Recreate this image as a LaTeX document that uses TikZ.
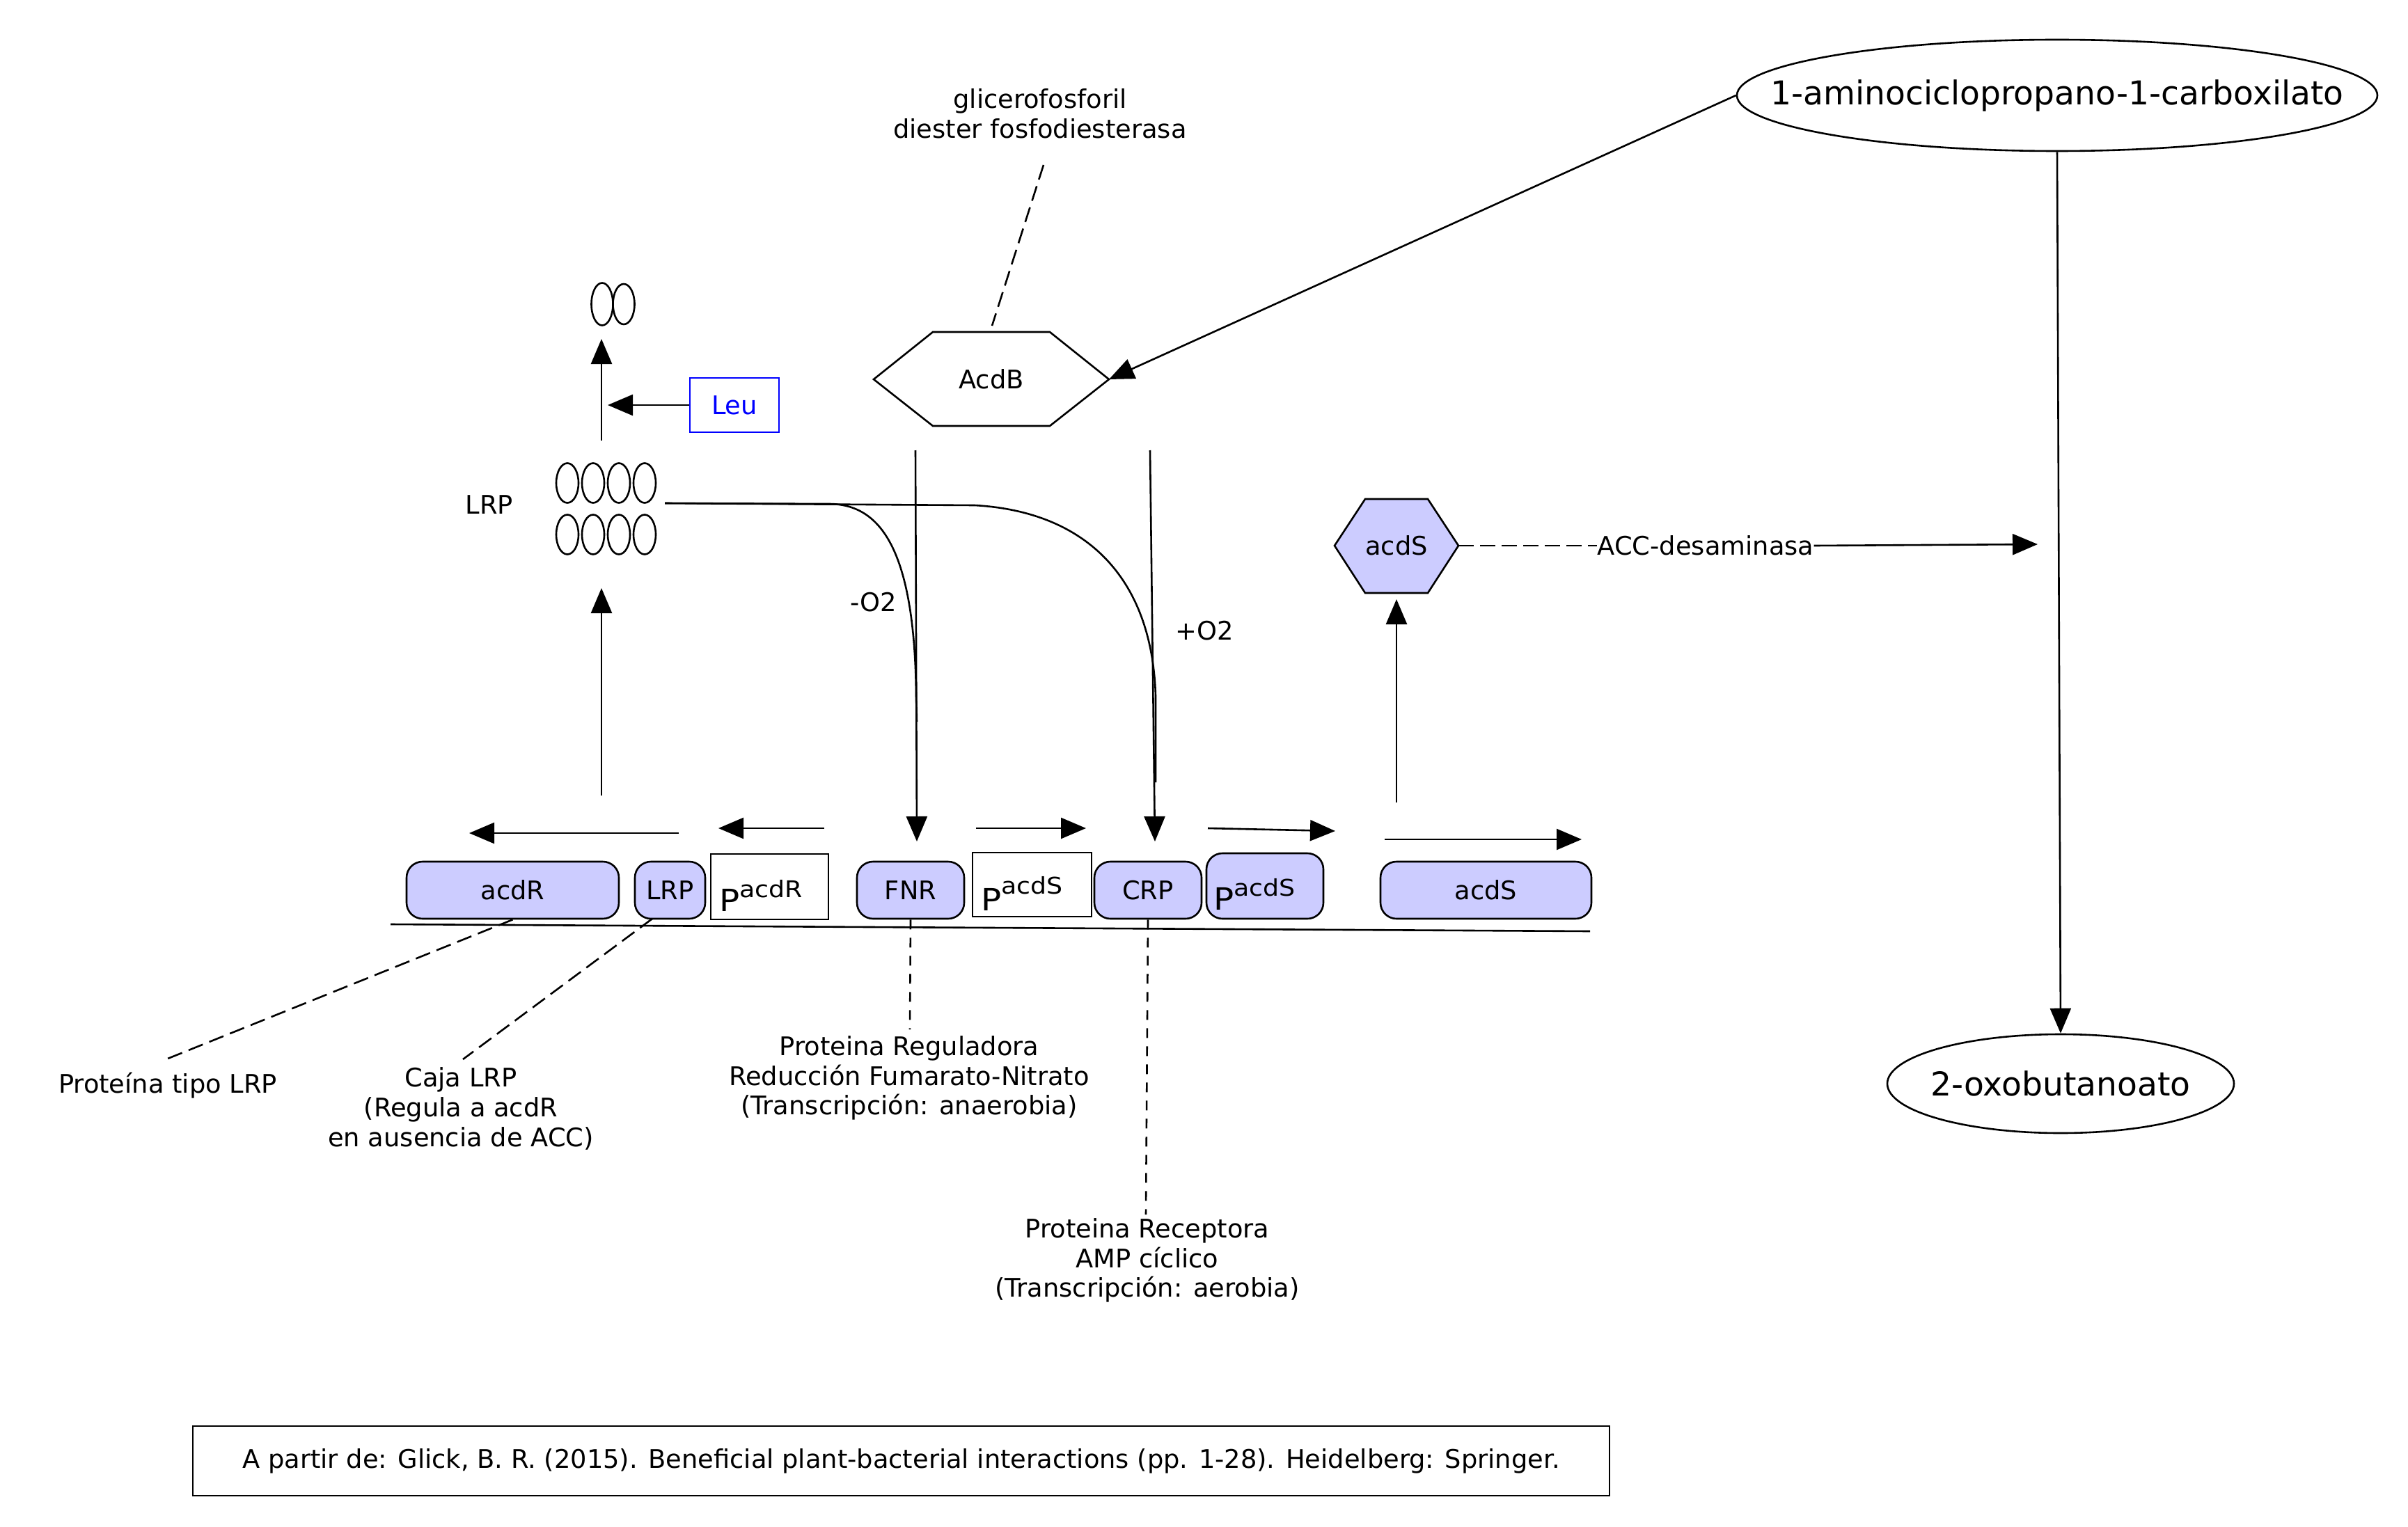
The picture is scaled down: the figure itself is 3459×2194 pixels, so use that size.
\documentclass[tikz,border=0pt]{standalone}
\usepackage{fontspec}
\setmainfont{DejaVu Sans}
\usepackage{graphicx}
\usetikzlibrary{arrows.meta,shapes.geometric}
\definecolor{lav}{HTML}{CCCCFF}
\definecolor{leublue}{HTML}{0000FF}
\newcommand\Psup[2]{\scalebox{1.1}[1]{\fontsize{22}{22}\selectfont P\raisebox{#2}{\fontsize{16.5}{16.5}\selectfont #1}}}
\begin{document}
\begin{tikzpicture}[x=0.5pt,y=-0.5pt,
  every node/.style={font=\fontsize{18.4}{21.4}\selectfont, inner sep=0pt},
  ln/.style={line width=1.3pt},
  arr/.style={ln,-{Triangle[length=18pt,width=15pt]}},
  dsh/.style={ln,dash pattern=on 11pt off 5pt},
  dshv/.style={ln,dash pattern=on 7pt off 6pt},
  gene/.style={draw,ln,fill=lav,rounded corners=11.5pt,minimum height=41pt},
  prom/.style={draw,ln,fill=white,minimum height=47pt},
  big/.style={font=\fontsize{23.6}{27.5}\selectfont},
  elnode/.style={draw,ln,ellipse,big},
  oval/.style={ln}
]
\useasboundingbox (0,0) rectangle (3459,2194);

% ---- top right ellipses
\node[elnode, minimum width=460pt, minimum height=80pt] (acc) at (2955,137) {\makebox[0pt]{1-aminociclopropano-1-carboxilato}};
\node[elnode, minimum width=249pt, minimum height=71pt] (oxo) at (2960,1557) {\makebox[0pt]{2-oxobutanoato}};
\draw[arr] (acc.south) -- (oxo.north);

% ---- AcdB hexagon
\coordinate (acdbR) at (1593,545);
\coordinate (acdbL) at (1255,545);
\draw[ln] (acdbL) -- (1340,477) -- (1508,477) -- (acdbR) -- (1508,612) -- (1340,612) -- cycle;
\node (acdb) at (1424,545) {AcdB};
\draw[arr] (acc.west) -- (acdbR);

\node[align=center] (glic) at (1494,163) {glicerofosforil\\diester fosfodiesterasa};
\coordinate (g1) at (1499,237);
\coordinate (g2) at (1425,468);
\draw[dsh] (g1) -- (g2);

% ---- LRP dimer / tetramer
\draw[oval] (865,437) ellipse [x radius=7.75pt, y radius=15.25pt];
\draw[oval] (896,437) ellipse [x radius=7.75pt, y radius=14.5pt];
\foreach \xx in {815,852,889,926}{
  \draw[oval] (\xx,694) ellipse [x radius=8pt, y radius=14.25pt];
  \draw[oval] (\xx,768) ellipse [x radius=8pt, y radius=14.25pt];
}
\node (lrpl) at (703,725) {LRP};
\coordinate (dimA) at (864,633);
\coordinate (dimB) at (864,487);
\draw[arr] (dimA) -- (dimB);
\node[draw=leublue, text=leublue, ln, minimum width=64pt, minimum height=39pt] (leu) at (1055,582) {Leu};
\coordinate (leuT) at (873,582);
\draw[arr] (leu.west) -- (leuT);
\coordinate (tetA) at (864,1143);
\coordinate (tetB) at (864,845);
\draw[arr] (tetA) -- (tetB);

% ---- regulation curves
\coordinate (lrpO) at (955,723);
\draw[ln] (lrpO) -- (1190,724) .. controls (1260,724) and (1314,780) .. (1316,1000) -- (1317,1037);
\draw[ln] (lrpO) -- (1400,726) .. controls (1560,735) and (1655,830) .. (1660,1000) -- (1660,1124);
\coordinate (fnrTop) at (1315,647);
\coordinate (fnrTip) at (1317,1209);
\draw[arr] (fnrTop) -- (fnrTip);
\coordinate (crpTop) at (1652,647);
\coordinate (crpTip) at (1659,1209);
\draw[arr] (crpTop) -- (crpTip);
\node (mo2) at (1255,865) {-O2};
\node (po2) at (1730,906) {+O2};

% ---- acdS hexagon
\coordinate (hsR) at (2095,784);
\draw[ln, fill=lav] (1917,784) -- (1961,717) -- (2051,717) -- (hsR) -- (2051,852) -- (1961,852) -- cycle;
\node (acdsh) at (2006,784) {acdS};
\coordinate (hsA) at (2006,1153);
\coordinate (hsB) at (2006,861);
\draw[arr] (hsA) -- (hsB);
\node (accd) at (2450,784) {ACC-desaminasa};
\coordinate (accdT) at (2927,782);
\draw[ln, dash pattern=on 11pt off 4.5pt] (hsR) -- (accd.west);
\draw[arr] (accd.east) -- (accdT);

% ---- transcription arrows
\coordinate (a1s) at (975,1197);  \coordinate (a1e) at (674,1197);
\coordinate (a2s) at (1184,1190); \coordinate (a2e) at (1032,1190);
\coordinate (a3s) at (1402,1190); \coordinate (a3e) at (1560,1190);
\coordinate (a4s) at (1735,1190); \coordinate (a4e) at (1918,1194);
\coordinate (a5s) at (1989,1206); \coordinate (a5e) at (2272,1206);
\draw[arr] (a1s) -- (a1e);
\draw[arr] (a2s) -- (a2e);
\draw[arr] (a3s) -- (a3e);
\draw[arr] (a4s) -- (a4e);
\draw[arr] (a5s) -- (a5e);

% ---- gene row
\node[gene, minimum width=152.5pt] (acdR) at (736.5,1279) {acdR};
\node[gene, minimum width=50.5pt] (lrpb) at (962.5,1279) {LRP};
\node[prom, minimum width=84.5pt] (pacdR) at (1105.5,1274) {};
\node[anchor=base west] (pacdRt) at (1033,1309) {\Psup{acdR}{10pt}};
\node[gene, minimum width=77pt] (fnr) at (1308,1279) {FNR};
\node[prom, minimum width=85.5pt, minimum height=46pt] (pacdS) at (1482.5,1271) {};
\node[anchor=base west] (pacdSt) at (1409,1308) {\Psup{acdS}{12pt}};
\node[gene, minimum width=77pt] (crp) at (1649,1279) {CRP};
\node[gene, minimum width=84pt, minimum height=47pt] (pacdS2) at (1817,1273) {};
\node[anchor=base west] (pacdS2t) at (1743,1307) {\Psup{acdS}{10pt}};
\node[gene, minimum width=151.5pt] (acdSg) at (2134.5,1279) {acdS};
\coordinate (dnaL) at (561,1328);
\coordinate (dnaR) at (2284,1338);
\draw[ln] (dnaL) -- (dnaR);

% ---- annotations
\node (ptl) at (241,1560) {Proteína tipo LRP};
\coordinate (ptlT) at (241,1521);
\draw[dsh] (acdR.south) -- (ptlT);
\node[align=center] (caja) at (662,1593) {Caja LRP\\(Regula a acdR\\en ausencia de ACC)};
\coordinate (lrpS) at (937,1320);
\coordinate (cajaT) at (665,1522);
\draw[dsh] (lrpS) -- (cajaT);
\node[align=center] (fnrt) at (1306,1549) {Proteina Reguladora\\Reducción Fumarato-Nitrato\\(Transcripción: anaerobia)};
\coordinate (fnrD) at (1307,1479);
\draw[dshv] (fnr.south) -- (fnrD);
\node[align=center] (crpt) at (1648,1811) {Proteina Receptora\\AMP cíclico\\(Transcripción: aerobia)};
\coordinate (crpD) at (1646,1745);
\draw[dshv] (crp.south) -- (crpD);

% ---- footer
\node[draw, ln, minimum width=1017.5pt, minimum height=50pt] (foot) at (1294.5,2099) {A partir de: Glick, B. R. (2015). Beneficial plant-bacterial interactions (pp. 1-28). Heidelberg: Springer.};
\end{tikzpicture}
\end{document}
